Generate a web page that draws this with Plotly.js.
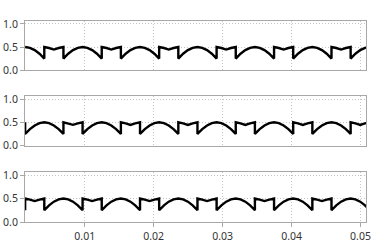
<!DOCTYPE html>
<html>
<head>
<meta charset="utf-8">
<script src="https://cdn.plot.ly/plotly-3.0.1.min.js"></script>
<style>html,body{margin:0;padding:0;background:#fff}#chart{width:382px;height:245px}</style>
</head>
<body>
<div id="chart"></div>
<script>
// time (s) — repeated entries mark the instantaneous steps of the waveform
const time = [
0.00135,0.00135,0.002044,0.002739,0.003433,0.004128,0.004128,0.004822,0.005517,0.006211,0.006906,0.006906,0.0076,0.008294,0.008989,
0.009683,0.009683,0.010378,0.011072,0.011767,0.012461,0.012461,0.013156,0.01385,0.014544,0.015239,0.015239,0.015933,0.016628,0.017322,
0.018017,0.018017,0.018711,0.019406,0.0201,0.020794,0.020794,0.021489,0.022183,0.022878,0.023572,0.023572,0.024267,0.024961,0.025656,
0.02635,0.02635,0.027044,0.027739,0.028433,0.029128,0.029128,0.029822,0.030517,0.031211,0.031906,0.031906,0.0326,0.033294,0.033989,
0.034683,0.034683,0.035378,0.036072,0.036767,0.037461,0.037461,0.038156,0.03885,0.039544,0.040239,0.040239,0.040933,0.041628,0.042322,
0.043017,0.043017,0.043711,0.044406,0.0451,0.045794,0.045794,0.046489,0.047183,0.047878,0.048572,0.048572,0.049267,0.049961,0.050656,
0.05135,0.05135
];
const phaseA = [
0.5,0.5,0.483,0.433,0.354,0.25,0.5,0.478,0.445,0.478,0.5,0.25,0.354,0.433,0.483,
0.5,0.5,0.483,0.433,0.354,0.25,0.5,0.478,0.445,0.478,0.5,0.25,0.354,0.433,0.483,
0.5,0.5,0.483,0.433,0.354,0.25,0.5,0.478,0.445,0.478,0.5,0.25,0.354,0.433,0.483,
0.5,0.5,0.483,0.433,0.354,0.25,0.5,0.478,0.445,0.478,0.5,0.25,0.354,0.433,0.483,
0.5,0.5,0.483,0.433,0.354,0.25,0.5,0.478,0.445,0.478,0.5,0.25,0.354,0.433,0.483,
0.5,0.5,0.483,0.433,0.354,0.25,0.5,0.478,0.445,0.478,0.5,0.25,0.354,0.433,0.483,
0.5,0.5
];
const phaseB = [
0.5,0.25,0.354,0.433,0.483,0.5,0.5,0.483,0.433,0.354,0.25,0.5,0.478,0.445,0.478,
0.5,0.25,0.354,0.433,0.483,0.5,0.5,0.483,0.433,0.354,0.25,0.5,0.478,0.445,0.478,
0.5,0.25,0.354,0.433,0.483,0.5,0.5,0.483,0.433,0.354,0.25,0.5,0.478,0.445,0.478,
0.5,0.25,0.354,0.433,0.483,0.5,0.5,0.483,0.433,0.354,0.25,0.5,0.478,0.445,0.478,
0.5,0.25,0.354,0.433,0.483,0.5,0.5,0.483,0.433,0.354,0.25,0.5,0.478,0.445,0.478,
0.5,0.25,0.354,0.433,0.483,0.5,0.5,0.483,0.433,0.354,0.25,0.5,0.478,0.445,0.478,
0.5,0.25
];
const phaseC = [
0.25,0.5,0.478,0.445,0.478,0.5,0.25,0.354,0.433,0.483,0.5,0.5,0.483,0.433,0.354,
0.25,0.5,0.478,0.445,0.478,0.5,0.25,0.354,0.433,0.483,0.5,0.5,0.483,0.433,0.354,
0.25,0.5,0.478,0.445,0.478,0.5,0.25,0.354,0.433,0.483,0.5,0.5,0.483,0.433,0.354,
0.25,0.5,0.478,0.445,0.478,0.5,0.25,0.354,0.433,0.483,0.5,0.5,0.483,0.433,0.354,
0.25,0.5,0.478,0.445,0.478,0.5,0.25,0.354,0.433,0.483,0.5,0.5,0.483,0.433,0.354,
0.25,0.5,0.478,0.445,0.478,0.5,0.25,0.354,0.433,0.483,0.5,0.5,0.483,0.433,0.354,
0.25,0.5
];
const xTicks = [0.01, 0.02, 0.03, 0.04, 0.05];
const xTickLabels = ['0.01', '0.02', '0.03', '0.04', '0.05'];
const yTicks = [0, 0.5, 1];
const yTickLabels = ['0.0', '0.5', '1.0'];

const series = [phaseA, phaseB, phaseC];
const traces = series.map((v, i) => ({
  x: time, y: v, type: 'scatter', mode: 'lines',
  xaxis: i === 0 ? 'x' : 'x' + (i + 1),
  yaxis: i === 0 ? 'y' : 'y' + (i + 1),
  line: {color: '#000', width: 2.4},
  hoverinfo: 'skip', showlegend: false
}));

const lineCol = '#a8a8a8', gridCol = '#c4c4c4';
function xa(anchor, showLabels) {
  return {
    anchor: anchor, range: [0.00133, 0.0508], tickvals: xTicks, ticktext: xTickLabels,
    showticklabels: showLabels, ticks: showLabels ? 'outside' : '', ticklen: 4, tickcolor: lineCol,
    showline: true, mirror: true, linecolor: lineCol, linewidth: 1,
    showgrid: true, gridcolor: gridCol, griddash: '1px,2px', gridwidth: 1, zeroline: false
  };
}
function ya(anchor, dom) {
  return {
    anchor: anchor, domain: dom, range: [0, 1.065], tickvals: yTicks, ticktext: yTickLabels,
    ticks: 'outside', ticklen: 4, tickcolor: lineCol,
    showline: true, mirror: true, linecolor: lineCol, linewidth: 1,
    showgrid: true, gridcolor: gridCol, griddash: '1px,2px', gridwidth: 1, zeroline: false
  };
}
const layout = {
  width: 382, height: 245,
  margin: {l: 25, r: 16, t: 21, b: 23},
  paper_bgcolor: '#fff', plot_bgcolor: '#fff',
  font: {family: 'Noto Sans, sans-serif', size: 10.5, color: '#333'},
  xaxis: xa('y', false),
  xaxis2: xa('y2', false),
  xaxis3: xa('y3', true),
  yaxis: ya('x', [0.756, 1]),
  yaxis2: ya('x2', [0.38, 0.627]),
  yaxis3: ya('x3', [0, 0.249])
};
Plotly.newPlot('chart', traces, layout, {staticPlot: true, displayModeBar: false});
</script>
</body>
</html>
